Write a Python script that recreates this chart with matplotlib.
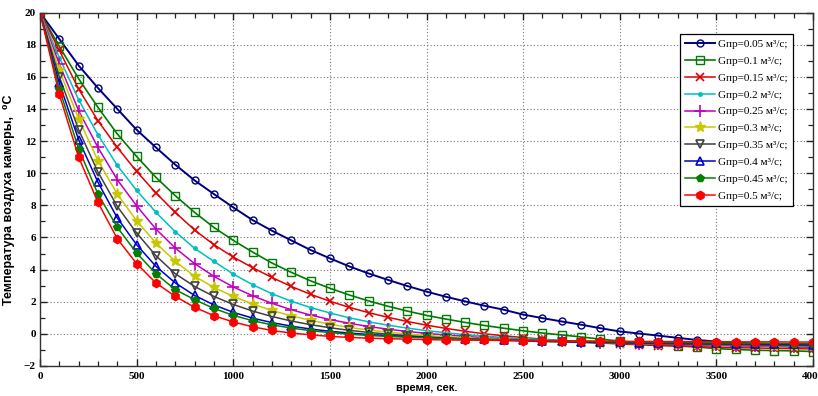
import matplotlib
matplotlib.use("Agg")
import matplotlib.pyplot as plt
from matplotlib.ticker import MultipleLocator

# time, s
t = list(range(0, 4100, 100))

labels = ["Gпр=0.05 м³/с;", "Gпр=0.1 м³/с;", "Gпр=0.15 м³/с;", "Gпр=0.2 м³/с;",
          "Gпр=0.25 м³/с;", "Gпр=0.3 м³/с;", "Gпр=0.35 м³/с;", "Gпр=0.4 м³/с;",
          "Gпр=0.45 м³/с;", "Gпр=0.5 м³/с;"]

g005 = [20.0, 18.35, 16.7, 15.3, 14.0, 12.7, 11.6, 10.53, 9.55, 8.7, 7.87, 7.08, 6.42, 5.82,
        5.22, 4.7, 4.2, 3.76, 3.36, 2.98, 2.63, 2.31, 2.02, 1.75, 1.5, 1.2, 0.98, 0.77, 0.57,
        0.35, 0.15, 0.02, -0.11, -0.25, -0.38, -0.48, -0.55, -0.6, -0.63, -0.66, -0.68]
g010 = [20.0, 17.89, 15.88, 14.09, 12.44, 11.04, 9.74, 8.6, 7.56, 6.62, 5.82, 5.09, 4.41, 3.83,
        3.3, 2.84, 2.42, 2.05, 1.72, 1.42, 1.15, 0.92, 0.71, 0.52, 0.35, 0.19, 0.05, -0.07,
        -0.19, -0.33, -0.45, -0.55, -0.65, -0.73, -0.82, -0.92, -0.97, -1.02, -1.04, -1.06, -1.1]
g015 = [20.0, 17.64, 15.24, 13.26, 11.6, 10.11, 8.77, 7.56, 6.46, 5.55, 4.78, 4.12, 3.51, 2.95,
        2.46, 2.03, 1.65, 1.32, 1.03, 0.77, 0.54, 0.34, 0.16, 0.0, -0.12, -0.23, -0.33, -0.42,
        -0.5, -0.57, -0.63, -0.68, -0.73, -0.77, -0.8, -0.83, -0.86, -0.88, -0.9, -0.92, -0.94]
g020 = [20.0, 17.2, 14.57, 12.39, 10.48, 8.93, 7.56, 6.36, 5.32, 4.51, 3.72, 3.06, 2.5, 2.03,
        1.64, 1.3, 1.0, 0.75, 0.54, 0.36, 0.2, 0.07, -0.05, -0.14, -0.23, -0.3, -0.36, -0.41,
        -0.46, -0.49, -0.53, -0.57, -0.61, -0.64, -0.67, -0.7, -0.73, -0.76, -0.79, -0.82, -0.85]
g025 = [20.0, 16.8, 13.89, 11.6, 9.59, 7.97, 6.52, 5.34, 4.37, 3.58, 2.92, 2.37, 1.9, 1.5,
        1.17, 0.89, 0.66, 0.46, 0.29, 0.15, 0.03, -0.07, -0.16, -0.24, -0.31, -0.37, -0.42,
        -0.47, -0.51, -0.55, -0.58, -0.61, -0.64, -0.67, -0.7, -0.72, -0.74, -0.76, -0.78, -0.8, -0.82]
g030 = [20.0, 16.4, 13.39, 10.78, 8.7, 7.04, 5.65, 4.51, 3.58, 2.89, 2.33, 1.86, 1.46, 1.12,
        0.84, 0.6, 0.4, 0.24, 0.1, -0.01, -0.1, -0.18, -0.25, -0.31, -0.36, -0.41, -0.45,
        -0.49, -0.52, -0.55, -0.58, -0.6, -0.62, -0.64, -0.66, -0.68, -0.7, -0.72, -0.74, -0.75, -0.77]
g035 = [20.0, 16.0, 12.7, 10.07, 7.93, 6.28, 4.86, 3.74, 2.95, 2.33, 1.83, 1.42, 1.08, 0.8,
        0.57, 0.38, 0.22, 0.09, -0.02, -0.11, -0.19, -0.26, -0.32, -0.37, -0.41, -0.45, -0.48,
        -0.51, -0.54, -0.56, -0.58, -0.6, -0.62, -0.64, -0.66, -0.67, -0.69, -0.7, -0.72, -0.73, -0.75]
g040 = [20.0, 15.6, 12.08, 9.43, 7.21, 5.55, 4.2, 3.17, 2.39, 1.8, 1.34, 0.98, 0.7, 0.48,
        0.3, 0.16, 0.05, -0.04, -0.11, -0.17, -0.22, -0.27, -0.31, -0.35, -0.38, -0.41, -0.44,
        -0.46, -0.48, -0.5, -0.52, -0.54, -0.56, -0.57, -0.59, -0.6, -0.62, -0.63, -0.64, -0.66, -0.67]
g045 = [20.0, 15.25, 11.52, 8.7, 6.63, 5.03, 3.74, 2.75, 2.13, 1.58, 1.15, 0.82, 0.56, 0.36,
        0.2, 0.08, -0.02, -0.1, -0.16, -0.21, -0.25, -0.29, -0.32, -0.35, -0.38, -0.4, -0.42,
        -0.44, -0.46, -0.48, -0.5, -0.51, -0.53, -0.54, -0.56, -0.57, -0.58, -0.59, -0.6, -0.61, -0.62]
g050 = [20.0, 14.9, 11.0, 8.18, 5.92, 4.37, 3.17, 2.33, 1.65, 1.13, 0.74, 0.44, 0.21, 0.05,
        -0.06, -0.16, -0.22, -0.27, -0.3, -0.33, -0.36, -0.38, -0.39, -0.4, -0.41, -0.42, -0.43,
        -0.44, -0.45, -0.46, -0.47, -0.47, -0.48, -0.48, -0.49, -0.49, -0.5, -0.5, -0.5, -0.51, -0.51]

series = [g005, g010, g015, g020, g025, g030, g035, g040, g045, g050]

styles = [
    dict(color="#00007f", marker="o", mfc="none", ms=5, lw=1.4),
    dict(color="#007a00", marker="s", mfc="none", ms=5.5, lw=1.2),
    dict(color="#e00000", marker="x", ms=6, lw=1.1, mew=1.2),
    dict(color="#00bfbf", marker=".", ms=5, lw=1.1),
    dict(color="#bf00bf", marker="+", ms=8, lw=1.1, mew=1.2),
    dict(color="#c8c800", marker="*", ms=8, lw=1.1),
    dict(color="#404040", marker="v", mfc="none", ms=6, lw=1.1, mew=1.2),
    dict(color="#0000cc", marker="^", mfc="none", ms=5.5, lw=1.1, mew=1.2),
    dict(color="#008000", marker="p", ms=5.5, lw=1.1),
    dict(color="#ff0000", marker="h", ms=6, lw=1.1),
]

label_font = ["Liberation Sans Narrow", "Liberation Sans", "DejaVu Sans"]

fig = plt.figure(figsize=(8.18, 3.96), dpi=100)
ax = fig.add_axes([0.0489, 0.0758, 0.9450, 0.8926])

for vals, lab, st in zip(series, labels, styles):
    ax.plot(t, vals, label=lab, **st)

ax.set_xlim(0, 4000)
ax.set_ylim(-2, 20)
ax.xaxis.set_major_locator(MultipleLocator(500))
ax.xaxis.set_minor_locator(MultipleLocator(100))
ax.yaxis.set_major_locator(MultipleLocator(2))
ax.yaxis.set_minor_locator(MultipleLocator(1))
ax.tick_params(which="both", direction="in", top=True, right=True, colors="#222222")
ax.tick_params(which="major", length=5, width=1.0, pad=3)
ax.tick_params(which="minor", length=3.5, width=0.9)
ax.tick_params(axis="x", which="major", pad=4)
for lab in ax.get_xticklabels() + ax.get_yticklabels():
    lab.set_fontfamily("Liberation Serif")
    lab.set_fontweight("bold")
    lab.set_fontsize(8)
    lab.set_color("black")
for sp in ax.spines.values():
    sp.set_color("#333333")
    sp.set_linewidth(1.0)

ax.grid(True, which="major", color="#777777", linestyle=(0, (1, 2)), linewidth=0.8)

ax.set_xlabel("время, сек.", fontfamily=label_font, fontweight="bold", fontsize=8)
ax.xaxis.set_label_coords(0.5, -0.047)
ax.set_ylabel("Температура воздуха камеры,  ⁰С", fontfamily=label_font,
              fontweight="bold", fontsize=9)
ax.yaxis.set_label_coords(-0.0323, 0.47)

leg = ax.legend(loc="upper right", bbox_to_anchor=(0.974, 0.939),
                prop=dict(family="Liberation Serif", size=8),
                frameon=True, fancybox=False, framealpha=1, edgecolor="black",
                labelspacing=0.64, handlelength=2.7, handletextpad=0.3,
                borderpad=0.45, borderaxespad=0.0)
leg.get_frame().set_linewidth(0.9)

fig.savefig("out.png", dpi=100)
